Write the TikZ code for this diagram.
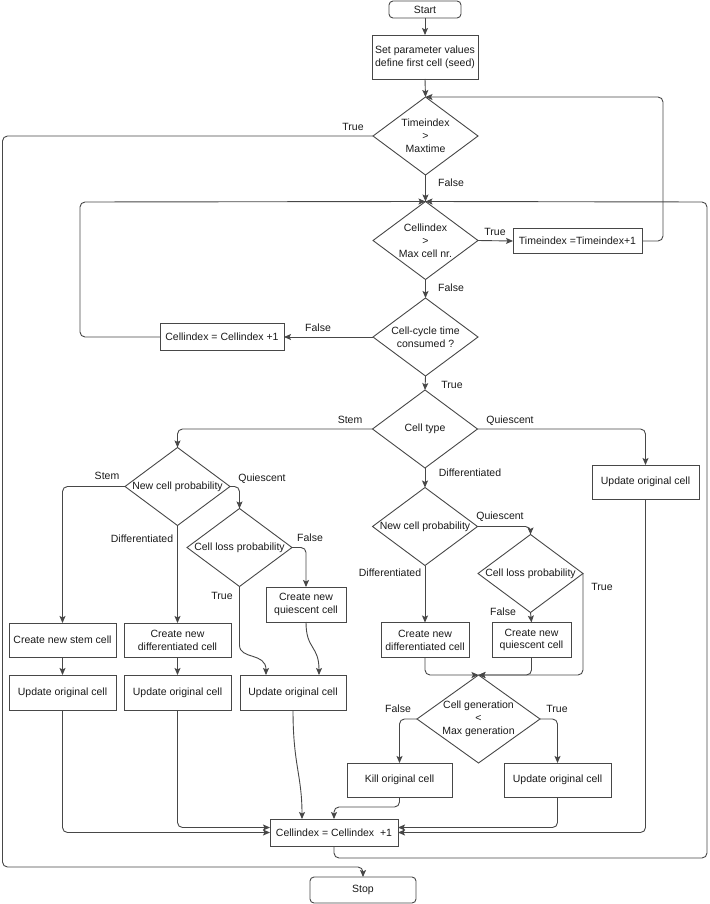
\documentclass[tikz,border=0pt]{standalone}
\usepackage{fontspec}
\setmainfont{Liberation Sans}
\usetikzlibrary{shapes.geometric,arrows.meta}
\begin{document}
\begin{tikzpicture}[x=1pt,y=-1pt,
  font=\fontsize{10.5}{12.8}\selectfont,
  ln/.style={draw=black!72, line width=0.9pt, rounded corners=5pt},
  arr/.style={ln, -{Stealth[length=7pt,width=6pt,inset=1.5pt]}},
  box/.style={draw=black!72, line width=0.9pt, rectangle, inner sep=0pt, outer sep=0pt, align=center, text=black!90},
  rbox/.style={box, rounded corners=4pt},
  dia/.style={draw=black!72, line width=0.9pt, diamond, inner sep=0pt, outer sep=0pt, minimum width=105pt, minimum height=78pt},
  dtxt/.style={align=center, inner sep=0pt, text=black!90},
  lbl/.style={inner sep=0pt, text=black!90},
]
\useasboundingbox (0,0) rectangle (709,904);

% ---- nodes ----
\node[rbox, minimum width=72pt, minimum height=17pt] (start) at (425,9.5) {Start};
\node[box, minimum width=106pt, minimum height=44pt] (set) at (425,57) {Set parameter values\\define first cell (seed)};

\node[dia] (d1) at (425.5,136) {};
\node[dtxt] (d1t) at (d1) {Timeindex\\>\\Maxtime};

\node[dia] (d2) at (425.5,240.5) {};
\node[dtxt] (d2t) at (d2) {Cellindex\\>\\Max cell nr.};
\node[box, minimum width=129pt, minimum height=25pt] (ti) at (577.5,241) {Timeindex =Timeindex+1};

\node[dia] (d3) at (425.5,337) {};
\node[dtxt] (d3t) at (d3) {Cell-cycle time\\consumed ?};
\node[box, minimum width=124pt, minimum height=27pt] (ci1) at (222,337) {Cellindex = Cellindex +1};

\node[dia] (d4) at (425,429) {};
\node[dtxt] (d4t) at (d4) {Cell type};
\node[box, minimum width=107pt, minimum height=34pt] (u4) at (645.5,482) {Update original cell};

\node[dia] (d5) at (177.5,486.5) {};
\node[dtxt] (d5t) at (d5) {New cell probability};
\node[dia] (d7) at (239.5,547.5) {};
\node[dtxt] (d7t) at (d7) {Cell loss probability};

\node[box, minimum width=107pt, minimum height=34pt] (cs) at (62.5,640) {Create new stem cell};
\node[box, minimum width=107pt, minimum height=34pt] (cd1) at (177.5,640) {Create new\\differentiated cell};
\node[box, minimum width=80pt, minimum height=35pt] (cq1) at (306,604.5) {Create new\\quiescent cell};

\node[box, minimum width=107pt, minimum height=35pt] (u1) at (62.5,692.5) {Update original cell};
\node[box, minimum width=107pt, minimum height=35pt] (u2) at (177.5,692.5) {Update original cell};
\node[box, minimum width=106pt, minimum height=35pt] (u3) at (293,692.5) {Update original cell};

\node[dia] (d6) at (425,526.5) {};
\node[dtxt] (d6t) at (d6) {New cell probability};
\node[dia] (d8) at (530.5,573.5) {};
\node[dtxt] (d8t) at (d8) {Cell loss probability};

\node[box, minimum width=88pt, minimum height=35pt] (cd2) at (425,640) {Create new\\differentiated cell};
\node[box, minimum width=79pt, minimum height=35pt] (cq2) at (531.5,640) {Create new\\quiescent cell};

\node[dia, minimum width=123pt, minimum height=88pt] (d9) at (478.5,719) {};
\node[dtxt] (d9t) at (d9) {Cell generation\\<\\Max generation};

\node[box, minimum width=105pt, minimum height=34pt] (kill) at (399.5,780) {Kill original cell};
\node[box, minimum width=107pt, minimum height=34pt] (u5) at (557.5,780) {Update original cell};

\node[box, minimum width=128pt, minimum height=27pt] (ci2) at (334,832.5) {Cellindex = Cellindex \ +1};
\node[rbox, minimum width=106pt, minimum height=26pt] (stop) at (363,890) {Stop};

% ---- connectors ----
\draw[arr] (start.south) -- (set.north);
\draw[arr] (set.south) -- (d1.north);
\draw[arr] (d1.west) -- (2.5,136) -- (2.5,867) -- (363,867) -- (stop.north);
\draw[arr] (d1.south) -- (d2.north);
\draw[arr] (d2.east) -- (ti.west);
\draw[arr] (ti.east) -- (663,241) -- (663,97) -- (d1.north);
\draw[arr] (d2.south) -- (d3.north);
\draw[arr] (d3.west) -- (ci1.east);
\draw[arr] (ci1.west) -- (80,337) -- (80,202) -- (d2.north);
\draw[arr] (d3.south) -- (d4.north);
\draw[arr] (d4.west) -| (d5.north);
\draw[arr] (d4.east) -| (u4.north);
\draw[arr] (d4.south) -- (d6.north);

\draw[arr] (d5.west) -| (cs.north);
\draw[arr] (d5.south) -- (cd1.north);
\draw[arr] (d5.east) -| (d7.north);
\draw[arr] (d7.east) -| (cq1.north);
\draw[arr] (d7.south) -- (239.5,640) .. controls (239.5,660) and (266,652) .. ([xshift=26pt]u3.north west);
\draw[arr] (cq1.south) .. controls (306,650) and (319,645) .. ([xshift=-27pt]u3.north east);
\draw[arr] (cs.south) -- (u1.north);
\draw[arr] (cd1.south) -- (u2.north);
\draw[arr] (u1.south) |- (ci2.west);
\draw[arr] (u2.south) |- ([yshift=5pt]ci2.west);
\draw[arr] (u3.south) .. controls (293,765) and (302,775) .. ([xshift=-32pt]ci2.north);

\draw[arr] (d6.east) -| (d8.north);
\draw[arr] (d6.south) -- (cd2.north);
\draw[arr] (d8.south) -- (cq2.north);
\draw[arr] (d8.east) |- (d9.north);
\draw[arr] (cd2.south) |- (d9.north);
\draw[arr] (cq2.south) |- (d9.north);
\draw[arr] (d9.west) -| (kill.north);
\draw[arr] (d9.east) -| (u5.north);
\draw[arr] (kill.south) -- ++(0,10) -| (ci2.north);
\draw[arr] (u5.south) |- ([yshift=5pt]ci2.east);
\draw[arr] (u4.south) |- (ci2.east);
\draw[arr] (ci2.south) -- ++(0,12) -- (707,858) -- (707,202) -- (d2.north);

% ---- labels ----
\node[lbl] (l1) at (353,127) {True};
\node[lbl] (l2) at (451,183) {False};
\node[lbl] (l3) at (495,232) {True};
\node[lbl] (l4) at (451,288) {False};
\node[lbl] (l5) at (318,328) {False};
\node[lbl] (l6) at (452,385) {True};
\node[lbl] (l7) at (350,420) {Stem};
\node[lbl] (l8) at (510,421) {Quiescent};
\node[lbl] (l9) at (470,473) {Differentiated};
\node[lbl] (l10) at (107,476) {Stem};
\node[lbl] (l11) at (262,479) {Quiescent};
\node[lbl] (l12) at (142,539) {Differentiated};
\node[lbl] (l13) at (310,538) {False};
\node[lbl] (l14) at (222,596) {True};
\node[lbl] (l15) at (500,517) {Quiescent};
\node[lbl] (l16) at (390,573) {Differentiated};
\node[lbl] (l17) at (602,587) {True};
\node[lbl] (l18) at (503,612) {False};
\node[lbl] (l19) at (398,709) {False};
\node[lbl] (l20) at (557,709) {True};
\end{tikzpicture}
\end{document}
